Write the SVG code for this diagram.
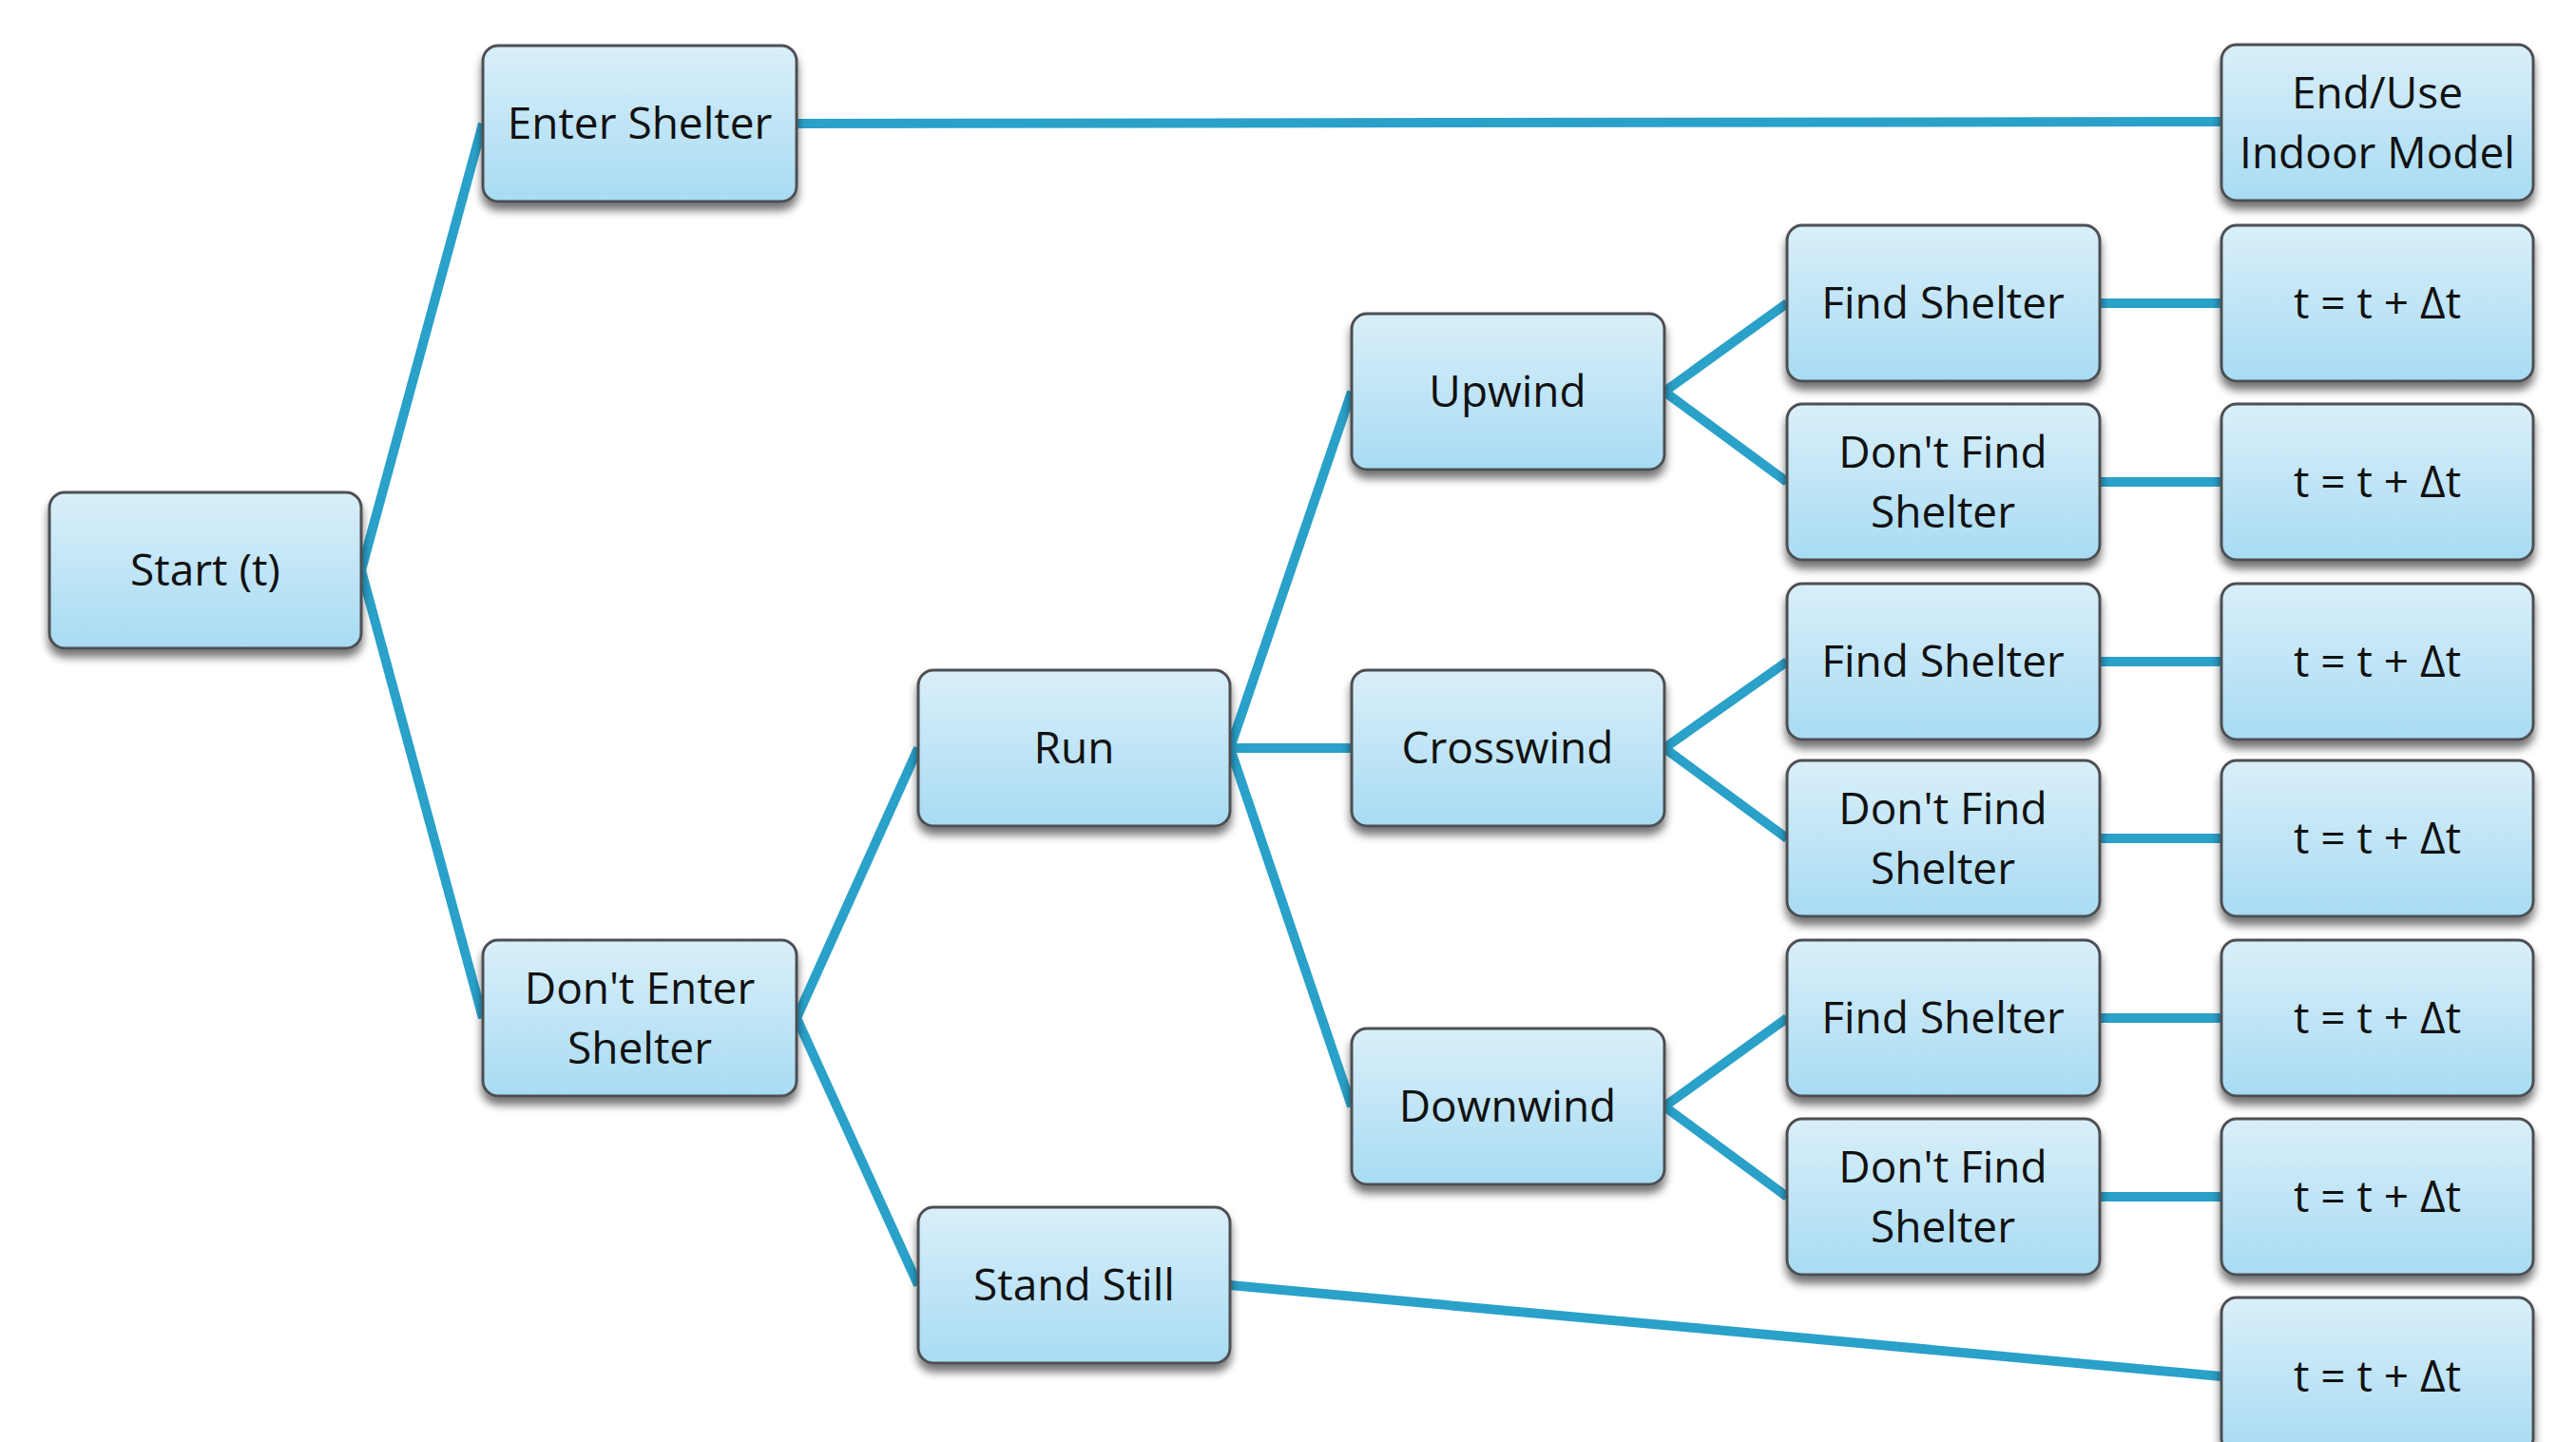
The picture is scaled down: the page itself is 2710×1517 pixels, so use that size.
<svg xmlns="http://www.w3.org/2000/svg" width="2710" height="1517" viewBox="0 0 2710 1517">
<defs>
<linearGradient id="g" x1="0" y1="0" x2="0" y2="1">
<stop offset="0" stop-color="#d9eff9"/>
<stop offset="1" stop-color="#a8dbf3"/>
</linearGradient>
<filter id="sh" x="-10%" y="-10%" width="120%" height="130%">
<feGaussianBlur in="SourceAlpha" stdDeviation="5"/>
<feOffset dx="0" dy="8" result="b"/>
<feComponentTransfer><feFuncA type="linear" slope="0.55"/></feComponentTransfer>
<feMerge><feMergeNode/><feMergeNode in="SourceGraphic"/></feMerge>
</filter>
</defs>
<style>
.box{fill:url(#g);stroke:#4d4f52;stroke-width:3;filter:url(#sh)}
.t{font-family:"Open Sans","Noto Sans",sans-serif;font-size:46px;fill:#111;text-anchor:middle}
.c{stroke:#2aa1c9;stroke-width:10;fill:none;stroke-linecap:butt}
</style>
<rect width="2710" height="1517" fill="#ffffff"/>
<g id="connectors">
<line class="c" x1="380" y1="600" x2="508" y2="130"/>
<line class="c" x1="380" y1="600" x2="508" y2="1071"/>
<line class="c" x1="838" y1="130" x2="2337" y2="128"/>
<line class="c" x1="838" y1="1071" x2="966" y2="787"/>
<line class="c" x1="838" y1="1071" x2="966" y2="1352"/>
<line class="c" x1="1294" y1="787" x2="1422" y2="412"/>
<line class="c" x1="1294" y1="787" x2="1422" y2="787"/>
<line class="c" x1="1294" y1="787" x2="1422" y2="1164"/>
<line class="c" x1="1751" y1="412" x2="1880" y2="319"/>
<line class="c" x1="1751" y1="412" x2="1880" y2="507"/>
<line class="c" x1="1751" y1="787" x2="1880" y2="696"/>
<line class="c" x1="1751" y1="787" x2="1880" y2="882"/>
<line class="c" x1="1751" y1="1164" x2="1880" y2="1071"/>
<line class="c" x1="1751" y1="1164" x2="1880" y2="1259"/>
<line class="c" x1="2209" y1="319" x2="2337" y2="319"/>
<line class="c" x1="2209" y1="507" x2="2337" y2="507"/>
<line class="c" x1="2209" y1="696" x2="2337" y2="696"/>
<line class="c" x1="2209" y1="882" x2="2337" y2="882"/>
<line class="c" x1="2209" y1="1071" x2="2337" y2="1071"/>
<line class="c" x1="2209" y1="1259" x2="2337" y2="1259"/>
<line class="c" x1="1294" y1="1352" x2="2337" y2="1448"/>
</g>
<g id="start"><rect class="box" x="52" y="518" width="328" height="164" rx="16"/><text class="t" x="216" y="616">Start (t)</text></g>
<g id="enter"><rect class="box" x="508" y="48" width="330" height="164" rx="16"/><text class="t" x="673" y="146">Enter Shelter</text></g>
<g id="dontenter"><rect class="box" x="508" y="989" width="330" height="164" rx="16"/><text class="t" x="673" y="1056">Don't Enter</text><text class="t" x="673" y="1119">Shelter</text></g>
<g id="run"><rect class="box" x="966" y="705" width="328" height="164" rx="16"/><text class="t" x="1130" y="803">Run</text></g>
<g id="standstill"><rect class="box" x="966" y="1270" width="328" height="164" rx="16"/><text class="t" x="1130" y="1368">Stand Still</text></g>
<g id="upwind"><rect class="box" x="1422" y="330" width="329" height="164" rx="16"/><text class="t" x="1586" y="428">Upwind</text></g>
<g id="crosswind"><rect class="box" x="1422" y="705" width="329" height="164" rx="16"/><text class="t" x="1586" y="803">Crosswind</text></g>
<g id="downwind"><rect class="box" x="1422" y="1082" width="329" height="164" rx="16"/><text class="t" x="1586" y="1180">Downwind</text></g>
<g id="find1"><rect class="box" x="1880" y="237" width="329" height="164" rx="16"/><text class="t" x="2044" y="335">Find Shelter</text></g>
<g id="dfind1"><rect class="box" x="1880" y="425" width="329" height="164" rx="16"/><text class="t" x="2044" y="492">Don't Find</text><text class="t" x="2044" y="555">Shelter</text></g>
<g id="find2"><rect class="box" x="1880" y="614" width="329" height="164" rx="16"/><text class="t" x="2044" y="712">Find Shelter</text></g>
<g id="dfind2"><rect class="box" x="1880" y="800" width="329" height="164" rx="16"/><text class="t" x="2044" y="867">Don't Find</text><text class="t" x="2044" y="930">Shelter</text></g>
<g id="find3"><rect class="box" x="1880" y="989" width="329" height="164" rx="16"/><text class="t" x="2044" y="1087">Find Shelter</text></g>
<g id="dfind3"><rect class="box" x="1880" y="1177" width="329" height="164" rx="16"/><text class="t" x="2044" y="1244">Don't Find</text><text class="t" x="2044" y="1307">Shelter</text></g>
<g id="enduse"><rect class="box" x="2337" y="47" width="328" height="164" rx="16"/><text class="t" x="2501" y="114">End/Use</text><text class="t" x="2501" y="177">Indoor Model</text></g>
<g id="dt1"><rect class="box" x="2337" y="237" width="328" height="164" rx="16"/><text class="t" x="2501" y="335">t = t + Δt</text></g>
<g id="dt2"><rect class="box" x="2337" y="425" width="328" height="164" rx="16"/><text class="t" x="2501" y="523">t = t + Δt</text></g>
<g id="dt3"><rect class="box" x="2337" y="614" width="328" height="164" rx="16"/><text class="t" x="2501" y="712">t = t + Δt</text></g>
<g id="dt4"><rect class="box" x="2337" y="800" width="328" height="164" rx="16"/><text class="t" x="2501" y="898">t = t + Δt</text></g>
<g id="dt5"><rect class="box" x="2337" y="989" width="328" height="164" rx="16"/><text class="t" x="2501" y="1087">t = t + Δt</text></g>
<g id="dt6"><rect class="box" x="2337" y="1177" width="328" height="164" rx="16"/><text class="t" x="2501" y="1275">t = t + Δt</text></g>
<g id="dt7"><rect class="box" x="2337" y="1365" width="328" height="164" rx="16"/><text class="t" x="2501" y="1464">t = t + Δt</text></g>
</svg>
